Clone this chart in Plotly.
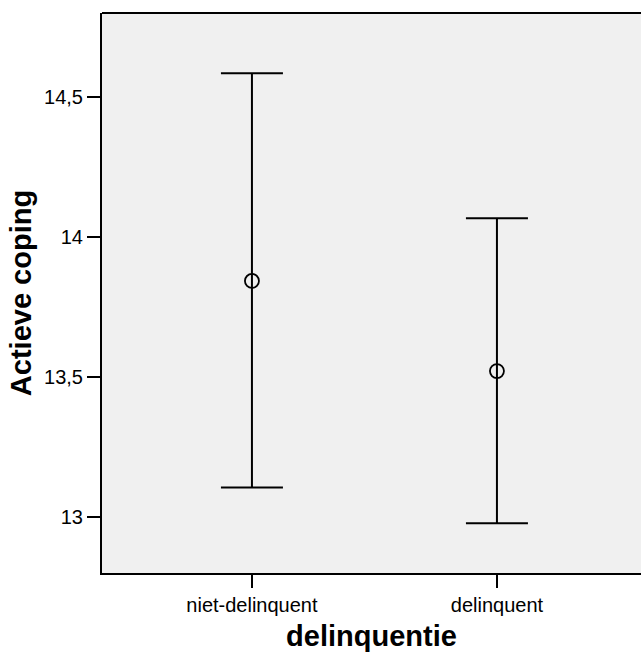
import plotly.graph_objects as go

categories = ["niet-delinquent", "delinquent"]
means = [13.843, 13.521]
upper = [14.585, 14.067]
lower = [13.105, 12.978]
tick_vals = [13, 13.5, 14, 14.5]
tick_text = ["13", "13,5", "14", "14,5"]

xpos = list(range(len(categories)))
fig = go.Figure()
fig.add_trace(go.Scatter(
    x=xpos, y=means, mode="markers",
    marker=dict(symbol="circle-open", size=14, color="black", line=dict(width=1.8, color="black")),
    error_y=dict(type="data", symmetric=False,
                 array=[u - m for u, m in zip(upper, means)],
                 arrayminus=[m - l for m, l in zip(means, lower)],
                 color="black", thickness=2, width=31),
    showlegend=False, hoverinfo="skip",
))

fig.update_layout(
    width=641, height=655,
    margin=dict(l=102, r=0, t=13, b=82),
    paper_bgcolor="white", plot_bgcolor="#F0F0F0",
    font=dict(family="Liberation Sans, Arial, sans-serif", color="black"),
    xaxis=dict(range=[-0.612, 1.588], tickvals=xpos, ticktext=categories,
               showgrid=False, zeroline=False, showline=True, linecolor="black", linewidth=2,
               ticks="outside", ticklen=13, tickwidth=2, tickcolor="black",
               tickfont=dict(size=20),
               title=dict(text="<b>delinquentie</b>", font=dict(size=29), standoff=11)),
    yaxis=dict(range=[12.8, 14.8], tickvals=tick_vals, ticktext=tick_text,
               showgrid=False, zeroline=False, showline=True, linecolor="black", linewidth=2,
               ticks="outside", ticklen=13, tickwidth=2, tickcolor="black",
               tickfont=dict(size=20),
               title=dict(text="<b>Actieve coping</b>", font=dict(size=29), standoff=4)),
    shapes=[dict(type="line", xref="paper", yref="paper", x0=0, x1=1, y0=1, y1=1,
                 line=dict(color="black", width=2))],
)

fig.write_html("out.html")
